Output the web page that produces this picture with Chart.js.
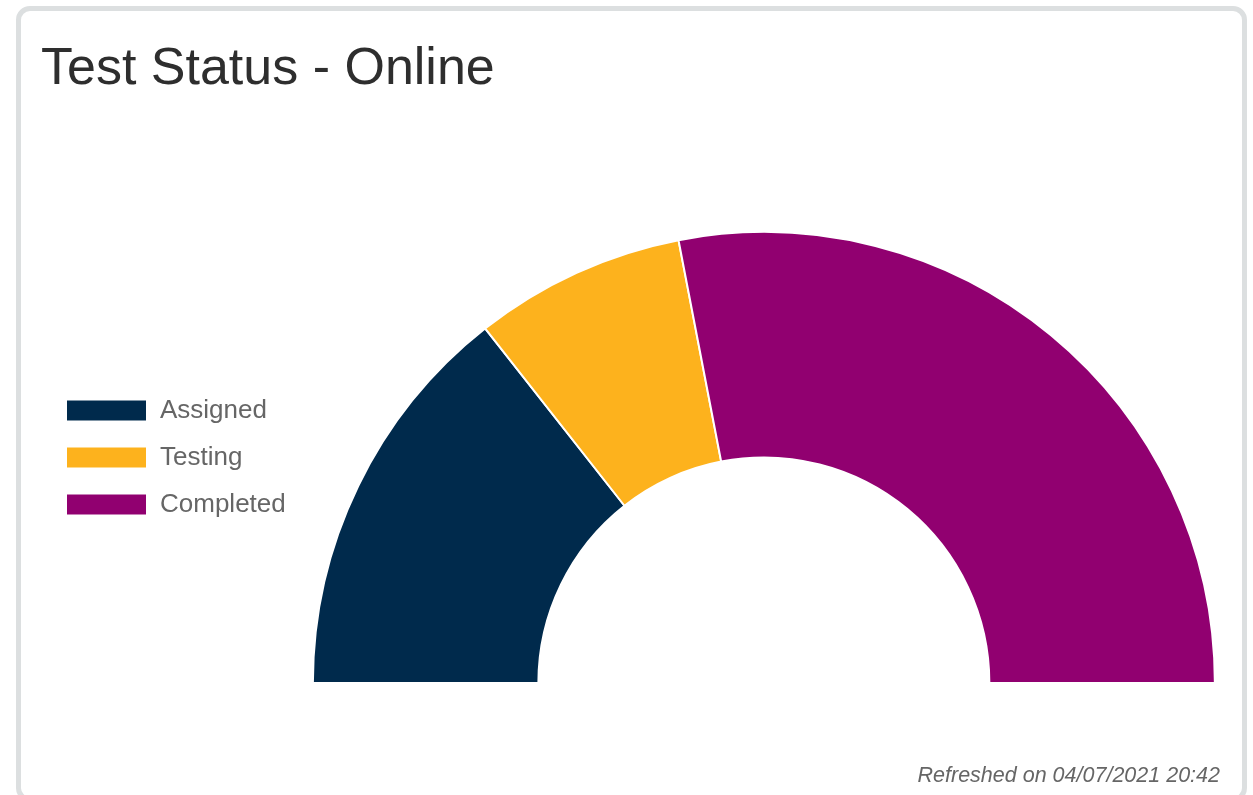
<!DOCTYPE html>
<html>
<head>
<meta charset="utf-8">
<title>Test Status - Online</title>
<script src="https://cdn.jsdelivr.net/npm/chart.js@4"></script>
<style>
  html, body { margin: 0; padding: 0; background: #fff; }
  body { width: 1253px; height: 795px; position: relative; overflow: hidden; font-family: "Liberation Sans", Arial, Helvetica, sans-serif; }
  .card { position: absolute; left: 16px; top: 6px; width: 1231px; height: 796px; box-sizing: border-box; border: 5px solid #dcdfe0; border-radius: 14px; }
  .title { position: absolute; left: 41px; top: 36px; margin: 0; font-size: 52px; font-weight: normal; color: #2e2e2e; line-height: normal; white-space: nowrap; }
  .refreshed { position: absolute; right: 33px; top: 763px; font-size: 21.5px; font-style: italic; color: #666; line-height: normal; white-space: nowrap; }
  .chart-wrap { position: absolute; left: 0; top: 0; width: 1253px; height: 795px; }
</style>
</head>
<body>
<div class="card"></div>
<h2 class="title">Test Status - Online</h2>
<div class="chart-wrap"><canvas id="statusChart"></canvas></div>
<div class="refreshed">Refreshed on 04/07/2021 20:42</div>
<script>
// Sample Data
const labels = ["Assigned", "Testing", "Completed"];
const testCounts = [19, 10, 37];

const sliceColors = ["#002a4c", "#fdb21d", "#910070"];

Chart.defaults.font.family = '"Liberation Sans", Arial, Helvetica, sans-serif';

// Test status half doughnut
new Chart(document.getElementById("statusChart"), {
    type: "doughnut",
    data: {
        labels: labels,
        datasets: [{
            label: "Tests",
            data: testCounts,
            backgroundColor: sliceColors,
            borderColor: "#ffffff",
            borderWidth: 2
        }]
    },
    options: {
        responsive: true,
        maintainAspectRatio: false,
        animation: false,
        rotation: -90,
        circumference: 180,
        cutout: "50%",
        layout: {
            padding: { top: 231, bottom: 111, left: 45, right: 21 }
        },
        plugins: {
            legend: {
                position: "left",
                labels: {
                    boxWidth: 81,
                    boxHeight: 22,
                    padding: 21,
                    color: "#666",
                    font: { size: 26 }
                }
            }
        }
    }
});
</script>
</body>
</html>
